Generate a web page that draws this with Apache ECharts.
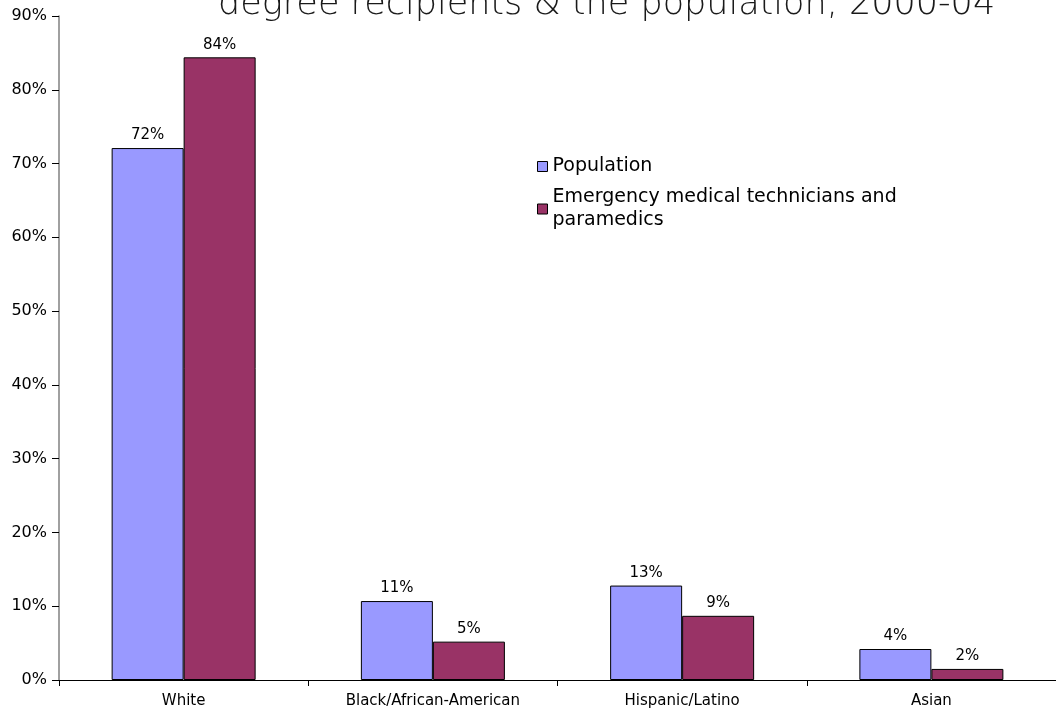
<!DOCTYPE html>
<html>
<head>
<meta charset="utf-8">
<script src="https://cdn.jsdelivr.net/npm/echarts@6/dist/echarts.min.js"></script>
<style>html,body{margin:0;padding:0;background:#fff;}#c{width:1056px;height:713px;}</style>
</head>
<body>
<div id="c"></div>
<script>
const categories = ['White', 'Black/African-American', 'Hispanic/Latino', 'Asian'];
const population = [72.1, 10.7, 12.8, 4.2];
const emt = [84.4, 5.2, 8.7, 1.5];
const seriesNames = ['Population', 'Emergency medical technicians and\nparamedics'];
const titleText = 'degree recipients & the population, 2000-04';

const font = 'DejaVu Sans';
const chart = echarts.init(document.getElementById('c'));
const labelOpt = {
  show: true, position: 'top', distance: 5, color: '#000', fontSize: 15, fontFamily: font,
  formatter: p => Math.round(p.value) + '%'
};
chart.setOption({
  animation: false,
  title: {
    text: titleText, left: 213, top: -18,
    textStyle: { fontFamily: 'DejaVu Sans', fontWeight: 200, fontSize: 35, color: '#1a1a1a' }
  },
  legend: {
    orient: 'vertical', left: 532, top: 150, itemWidth: 10, itemHeight: 10, itemGap: 8,
    icon: 'rect',
    textStyle: { fontFamily: font, fontSize: 19, color: '#000', lineHeight: 23 },
    itemStyle: { borderColor: '#000', borderWidth: 1 }
  },
  grid: { left: 59, right: -7, top: 16, bottom: 33, containLabel: false },
  xAxis: {
    type: 'category', data: categories,
    axisLine: { lineStyle: { color: '#000', width: 1 } },
    axisTick: { show: true, length: 6, lineStyle: { color: '#000' } },
    axisLabel: { color: '#000', fontFamily: font, fontSize: 15, margin: 14 }
  },
  yAxis: {
    type: 'value', min: 0, max: 90, interval: 10,
    axisLine: { show: true, lineStyle: { color: '#808080', width: 1.5 } },
    axisTick: { show: true, length: 7, lineStyle: { color: '#000' } },
    splitLine: { show: false },
    axisLabel: { color: '#000', fontFamily: font, fontSize: 16, margin: 12, formatter: v => v + '%' }
  },
  series: [
    { name: seriesNames[0], type: 'bar', data: population, barWidth: 72, barGap: '0%',
      itemStyle: { color: '#9999FF', borderColor: '#000', borderWidth: 1 }, label: labelOpt },
    { name: seriesNames[1], type: 'bar', data: emt, barWidth: 72,
      itemStyle: { color: '#993366', borderColor: '#000', borderWidth: 1 }, label: labelOpt }
  ]
});
</script>
</body>
</html>
